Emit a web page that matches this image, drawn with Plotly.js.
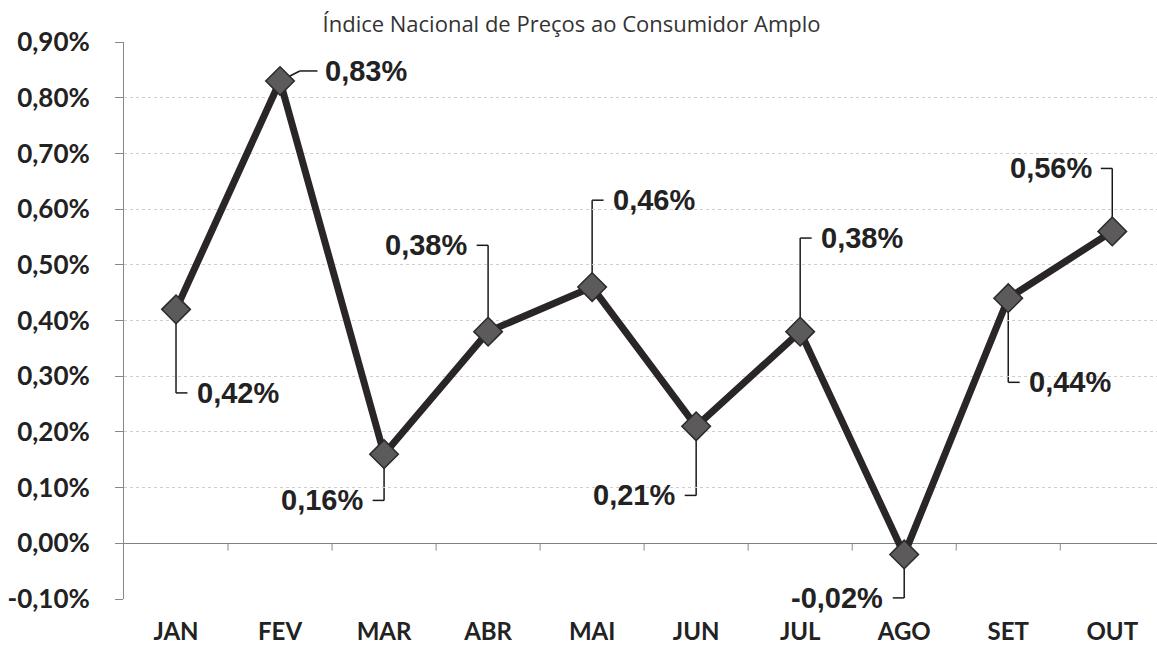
<!DOCTYPE html>
<html>
<head>
<meta charset="utf-8">
<script src="https://cdn.plot.ly/plotly-3.0.1.min.js"></script>
<style>html,body{margin:0;padding:0;background:#fff;}#chart{width:1157px;height:652px;}</style>
</head>
<body>
<div id="chart"></div>
<script>
// Data
const months = ["JAN","FEV","MAR","ABR","MAI","JUN","JUL","AGO","SET","OUT"];
const ipca = [0.42, 0.83, 0.16, 0.38, 0.46, 0.21, 0.38, -0.02, 0.44, 0.56];
const yTickVals = [-0.1,0,0.1,0.2,0.3,0.4,0.5,0.6,0.7,0.8,0.9];
const chartTitle = "Índice Nacional de Preços ao Consumidor Amplo";

// Label placement (leader offsets in data units, side +1 right / -1 left)
const labelDy = [-0.15, 0.018, -0.083, 0.155, 0.156, -0.124, 0.168, -0.078, -0.151, 0.113];
const labelSide = [1, 1, -1, -1, 1, -1, 1, -1, 1, -1];

const fmt = v => v.toFixed(2).replace('.', ',') + '%';
const yTickText = yTickVals.map(fmt);

const labelFont = {family:'Liberation Sans, Arial, sans-serif', size:29, color:'#222', weight:'bold'};
const shapes = [];
const annotations = [];
ipca.forEach((v, i) => {
  const side = labelSide[i];
  const ly = v + labelDy[i];
  if (i === 1) {
    shapes.push({type:'line', xref:'x', yref:'y', x0:i, y0:v, x1:i+0.19, y1:ly, line:{color:'#1a1a1a', width:1.5}, layer:'below'});
    shapes.push({type:'line', xref:'x', yref:'y', x0:i+0.19, y0:ly, x1:i+0.36, y1:ly, line:{color:'#1a1a1a', width:1.5}, layer:'below'});
    annotations.push({x:i+0.41, y:ly, xref:'x', yref:'y', text:fmt(v), showarrow:false, xanchor:'left', yanchor:'middle', font:labelFont});
  } else {
    shapes.push({type:'line', xref:'x', yref:'y', x0:i, y0:v, x1:i, y1:ly, line:{color:'#1a1a1a', width:1.5}, layer:'below'});
    shapes.push({type:'line', xref:'x', yref:'y', x0:i, y0:ly, x1:i+side*0.11, y1:ly, line:{color:'#1a1a1a', width:1.5}, layer:'below'});
    annotations.push({x:i+side*0.18, y:ly, xref:'x', yref:'y', text:fmt(v), showarrow:false,
      xanchor: side > 0 ? 'left' : 'right', yanchor:'middle', font:labelFont});
  }
});
for (let i = 0; i < months.length - 1; i++) {
  shapes.push({type:'line', xref:'x', yref:'y', x0:i+0.5, x1:i+0.5, y0:0, y1:-0.013, line:{color:'#888', width:1}, layer:'below'});
}

const trace = {
  x: months, y: ipca, type:'scatter', mode:'lines+markers',
  line:{color:'#2a2627', width:7},
  marker:{symbol:'diamond', size:22, color:'#5c5a5b', line:{color:'#2a2a2a', width:1.5}},
  hoverinfo:'skip'
};

const layout = {
  width:1157, height:652,
  margin:{l:124, r:0, t:42, b:53},
  paper_bgcolor:'#fff', plot_bgcolor:'#fff',
  showlegend:false,
  title:{text:chartTitle, x:0.494, xanchor:'center', yref:'container', y:0.963, yanchor:'middle',
    font:{family:'Open Sans, sans-serif', size:22, color:'#333'}},
  xaxis:{type:'category', range:[-0.5, 9.43], showgrid:false, zeroline:false, showline:false, ticks:'',
    tickfont:{family:'Lato, sans-serif', size:24, color:'#222', weight:'bold'}, ticklabelstandoff:16, fixedrange:true},
  yaxis:{range:[-0.1, 0.9], tickmode:'array', tickvals:yTickVals, ticktext:yTickText,
    showgrid:true, gridcolor:'#cfcfcf', griddash:'dot', gridwidth:1,
    zeroline:true, zerolinecolor:'#808080', zerolinewidth:1.5,
    showline:true, linecolor:'#888', linewidth:1, ticks:'outside', ticklen:8, tickcolor:'#888',
    tickfont:{family:'Lato, sans-serif', size:26, color:'#222', weight:'bold'}, ticklabelstandoff:20, fixedrange:true},
  shapes:shapes, annotations:annotations
};
Plotly.newPlot('chart', [trace], layout, {displayModeBar:false, staticPlot:true});
</script>
</body>
</html>
